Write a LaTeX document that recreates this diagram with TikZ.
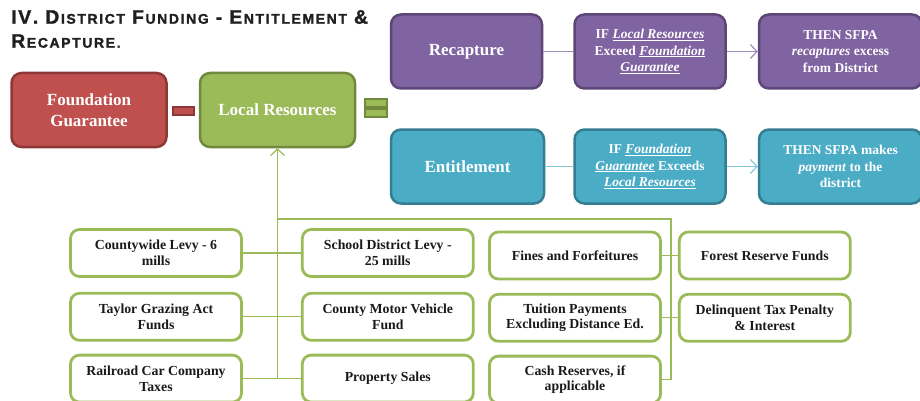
\documentclass[tikz,border=0pt]{standalone}
\usepackage{fontspec}
\setmainfont{Liberation Serif}
\newfontfamily\titlefont[BoldFeatures={FakeBold=1.5}]{Liberation Sans}
\usetikzlibrary{positioning,arrows.meta}

\definecolor{redfill}{HTML}{C0504D}
\definecolor{reddark}{HTML}{8C3836}
\definecolor{greenfill}{HTML}{9BBB59}
\definecolor{greendark}{HTML}{71893F}
\definecolor{purplefill}{HTML}{8064A2}
\definecolor{purpledark}{HTML}{5C4776}
\definecolor{purplelink}{HTML}{A08CC0}
\definecolor{tealfill}{HTML}{4BACC6}
\definecolor{tealdark}{HTML}{357D91}
\definecolor{teallink}{HTML}{86C8DA}
\definecolor{leaftext}{HTML}{1A1A1A}

% tracked letters, then big capital + small capitals for the heading
\makeatletter
\newcommand{\trk}[1]{\@tfor\@tk:=#1\do{\@tk\kern1.6pt}}
\makeatother
\newcommand{\hsc}[2]{{\fontsize{19.5}{24}\selectfont\trk{#1}}{\fontsize{14}{24}\selectfont\trk{#2}}}
\newcommand{\ul}[1]{\underline{\textit{#1}}}

\begin{document}
\begin{tikzpicture}[x=1pt, y=-1pt, node distance=30pt,
    bigbox/.style={draw, line width=2.5pt, rounded corners=10pt, text=white,
      font=\fontsize{17}{20.5}\selectfont\bfseries, align=center,
      minimum width=155pt, minimum height=74pt},
    rulebox/.style={bigbox, font=\fontsize{13.5}{16.5}\selectfont\bfseries,
      minimum width=151pt},
    leaf/.style={draw=greenfill, line width=2.8pt, rounded corners=9pt, fill=white,
      text=leaftext, font=\fontsize{13.8}{15.5}\selectfont\bfseries, align=center,
      minimum width=171pt, minimum height=47pt},
    sign/.style={rectangle, line width=2pt, inner sep=0pt},
    link/.style={greenfill, line width=1.2pt},
    barb/.style={-{Straight Barb[length=6.5pt, width=14pt, line width=1.2pt]}}]

  \useasboundingbox (0,0) rectangle (920,401);

  % heading
  \node[anchor=north west, align=left, inner sep=0pt,
    font=\titlefont\bfseries\fontsize{19.5}{24}\selectfont,
    text=black!88] (heading) at (11,10)
    {\hsc{IV.}{} \hsc{D}{ISTRICT} \hsc{F}{UNDING} \hsc{-}{} \hsc{E}{NTITLEMENT} \hsc{\&}{}\\
     \hsc{R}{ECAPTURE.}};

  % Foundation Guarantee - Local Resources =
  \node[bigbox, fill=redfill, draw=reddark] (found) at (89,110) {Foundation\\Guarantee};
  \node[bigbox, fill=greenfill, draw=greendark, right=31pt of found] (local) {Local Resources};
  \node[sign, fill=redfill, draw=reddark, minimum width=21pt, minimum height=8pt]
    (minus) at (183,111.5) {};
  \node[sign, fill=greenfill, draw=greendark, minimum width=22pt, minimum height=8pt]
    (eqtop) at (375.5,103.5) {};
  \node[sign, fill=greenfill, draw=greendark, minimum width=22pt, minimum height=8pt]
    (eqbot) at (375.5,113) {};

  % Recapture row
  \node[bigbox, fill=purplefill, draw=purpledark, minimum width=151pt] (recap) at (466.5,51.5) {Recapture};
  \node[rulebox, fill=purplefill, draw=purpledark, right=30pt of recap] (ifrecap)
    {IF \ul{Local Resources}\\Exceed \ul{Foundation}\\\ul{Guarantee}};
  \node[rulebox, fill=purplefill, draw=purpledark, right=31pt of ifrecap, minimum width=163pt] (thenrecap)
    {THEN SFPA\\\textit{recaptures} excess\\from District};
  \draw[purplelink, line width=1.2pt] (recap) -- (ifrecap);
  \draw[purplelink, line width=1.2pt, barb] (ifrecap) -- (thenrecap);

  % Entitlement row
  \node[bigbox, fill=tealfill, draw=tealdark, minimum width=153pt] (entitle) at (467.5,166.5) {Entitlement};
  \node[rulebox, fill=tealfill, draw=tealdark, right=28pt of entitle] (ifent)
    {IF \ul{Foundation}\\\ul{Guarantee} Exceeds\\\ul{Local Resources}};
  \node[rulebox, fill=tealfill, draw=tealdark, right=31pt of ifent, minimum width=163pt] (thenent)
    {THEN SFPA makes\\\textit{payment} to the\\district};
  \draw[teallink, line width=1.2pt] (entitle) -- (ifent);
  \draw[teallink, line width=1.2pt, barb] (ifent) -- (thenent);

  % local resource sources, left pair of columns
  \node[leaf] (county) at (156,253) {Countywide Levy - 6\\mills};
  \node[leaf, right=58pt of county] (school) {School District Levy -\\25 mills};
  \node[leaf, below=14pt of county] (taylor) {Taylor Grazing Act\\Funds};
  \node[leaf, below=14pt of school] (motor) {County Motor Vehicle\\Fund};
  \node[leaf, below=12pt of taylor] (railroad) {Railroad Car Company\\Taxes};
  \node[leaf, below=12pt of motor] (property) {Property Sales};

  % right pair of columns
  \node[leaf] (fines) at (575,255.5) {Fines and Forfeitures};
  \node[leaf, right=16pt of fines] (forest) {Forest Reserve Funds};
  \node[leaf, below=12.5pt of fines] (tuition) {Tuition Payments\\Excluding Distance Ed.};
  \node[leaf, below=12.5pt of forest] (delinq) {Delinquent Tax Penalty\\\& Interest};
  \node[leaf, below=12pt of tuition] (cash) {Cash Reserves, if\\applicable};

  % connectors into Local Resources
  \coordinate (forktop) at (671,219);
  \draw[link, barb] (railroad.east -| local.south) -- (local.south);
  \draw[link] (county) -- (school);
  \draw[link] (taylor) -- (motor);
  \draw[link] (railroad) -- (property);
  \draw[link] (local.south |- forktop) -- (forktop) -- (forktop |- cash.east) -- (cash.east);
  \draw[link] (fines) -- (forest);
  \draw[link] (tuition) -- (delinq);

\end{tikzpicture}
\end{document}
